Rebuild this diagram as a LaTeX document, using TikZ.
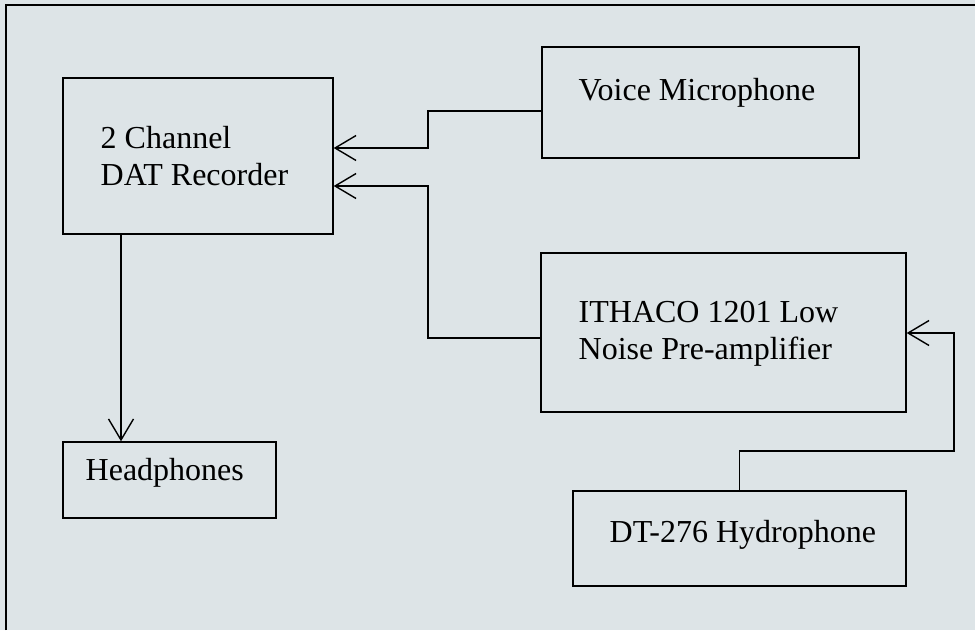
\documentclass[tikz,border=0pt]{standalone}
\usepackage{fontspec}
\setmainfont{Liberation Serif}
\usetikzlibrary{arrows.meta}
\definecolor{paper}{RGB}{221,228,231}

\begin{document}
\begin{tikzpicture}[x=1pt, y=-1pt, line width=1.4pt, >={Straight Barb[length=21pt, width=25pt]},
    box/.style = {draw, inner sep=0pt},
    txt/.style = {anchor=base west, inner sep=0pt, font=\fontsize{32}{37}\selectfont}]
            \useasboundingbox[fill=paper] (0,0) rectangle (975,630);
            \draw (6,630) -- (6,5) -- (975,5);
            % boxes
            \node[box, minimum width=270pt, minimum height=156pt] (rec) at (198,156) {};
            \node[box, minimum width=317pt, minimum height=111pt] (mic) at (700.5,102.5) {};
            \node[box, minimum width=365pt, minimum height=159pt] (amp) at (723.5,332.5) {};
            \node[box, minimum width=333pt, minimum height=95pt] (hyd) at (739.5,538.5) {};
            \node[box, minimum width=213pt, minimum height=76pt] (head) at (169.5,480) {};
            % labels
            \node[txt] (rec1) at (100,148) {2 Channel};
            \node[txt] (rec2) at (100,185) {DAT Recorder};
            \node[txt] (mic1) at (578,100) {Voice Microphone};
            \node[txt] (amp1) at (578,322) {ITHACO 1201 Low};
            \node[txt] (amp2) at (578,359) {Noise Pre-amplifier};
            \node[txt] (hyd1) at (609,542) {DT-276 Hydrophone};
            \node[txt] (head1) at (85,480) {Headphones};
            % wiring
            \draw[->] (mic.west |- 0,111) -| (428,148) -- (rec.east |- 0,148);
            \draw[->] (amp.west |- 0,338) -| (428,186) -- (rec.east |- 0,186);
            \draw[->] (hyd.north) |- (954,451) |- (amp.east |- 0,333);
            \draw[->] (rec.south -| 121,0) -- (head.north -| 121,0);
        \end{tikzpicture}
\end{document}
